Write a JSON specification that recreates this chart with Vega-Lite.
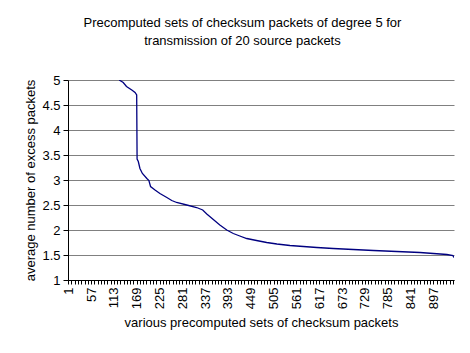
{
  "$schema": "https://vega.github.io/schema/vega-lite/v6.json",
  "width": 386,
  "height": 200,
  "autosize": {"type": "none"},
  "padding": {"left": 68, "top": 80, "right": 16, "bottom": 73},
  "background": "white",
  "title": {
    "text": ["Precomputed sets of checksum packets of degree 5 for", "transmission of 20 source packets"],
    "anchor": "middle",
    "frame": "bounds",
    "font": "Liberation Sans",
    "fontSize": 13,
    "fontWeight": "normal",
    "lineHeight": 18,
    "color": "black",
    "offset": 26
  },
  "config": {
    "view": {"stroke": null},
    "axis": {
      "labelFont": "Liberation Sans",
      "titleFont": "Liberation Sans",
      "labelFontSize": 13,
      "titleFontSize": 13,
      "titleFontWeight": "normal",
      "labelColor": "black",
      "titleColor": "black",
      "domainColor": "black",
      "tickColor": "black"
    }
  },
  "data": {
    "values": [
      {"set": 126, "excess": 5.0},
      {"set": 136, "excess": 4.95},
      {"set": 144, "excess": 4.87},
      {"set": 157, "excess": 4.8},
      {"set": 165, "excess": 4.75},
      {"set": 169, "excess": 4.7},
      {"set": 170, "excess": 3.42},
      {"set": 173, "excess": 3.37},
      {"set": 177, "excess": 3.23},
      {"set": 183, "excess": 3.13},
      {"set": 194, "excess": 3.03},
      {"set": 199, "excess": 2.99},
      {"set": 203, "excess": 2.87},
      {"set": 214, "excess": 2.8},
      {"set": 226, "excess": 2.73},
      {"set": 243, "excess": 2.65},
      {"set": 255, "excess": 2.59},
      {"set": 267, "excess": 2.55},
      {"set": 292, "excess": 2.5},
      {"set": 316, "excess": 2.45},
      {"set": 331, "excess": 2.4},
      {"set": 341, "excess": 2.32},
      {"set": 357, "excess": 2.21},
      {"set": 373, "excess": 2.1},
      {"set": 390, "excess": 2.0},
      {"set": 406, "excess": 1.93},
      {"set": 422, "excess": 1.88},
      {"set": 439, "excess": 1.83},
      {"set": 463, "excess": 1.79},
      {"set": 488, "excess": 1.75},
      {"set": 513, "excess": 1.72},
      {"set": 545, "excess": 1.69},
      {"set": 578, "excess": 1.67},
      {"set": 611, "excess": 1.65},
      {"set": 651, "excess": 1.63},
      {"set": 700, "excess": 1.61},
      {"set": 750, "excess": 1.59},
      {"set": 807, "excess": 1.57},
      {"set": 864, "excess": 1.55},
      {"set": 897, "excess": 1.53},
      {"set": 930, "excess": 1.51},
      {"set": 945, "excess": 1.49},
      {"set": 947, "excess": 1.45}
    ]
  },
  "mark": {"type": "line", "color": "#000080", "strokeWidth": 1.3, "clip": true, "interpolate": "linear"},
  "encoding": {
    "x": {
      "field": "set",
      "type": "quantitative",
      "scale": {"domain": [0.5, 947.5], "nice": false, "zero": false},
      "axis": {
        "title": "various precomputed sets of checksum packets",
        "values": [1,9,17,25,33,41,49,57,65,73,81,89,97,105,113,121,129,137,145,153,161,169,177,185,193,201,209,217,225,233,241,249,257,265,273,281,289,297,305,313,321,329,337,345,353,361,369,377,385,393,401,409,417,425,433,441,449,457,465,473,481,489,497,505,513,521,529,537,545,553,561,569,577,585,593,601,609,617,625,633,641,649,657,665,673,681,689,697,705,713,721,729,737,745,753,761,769,777,785,793,801,809,817,825,833,841,849,857,865,873,881,889,897,905,913,921,929,937,945],
        "labelExpr": "(datum.value - 1) % 56 == 0 ? datum.label : ''",
        "format": "d",
        "labelAngle": 270,
        "labelOverlap": false,
        "labelFlush": false,
        "labelPadding": 3,
        "tickSize": 4,
        "grid": false,
        "titlePadding": 8
      }
    },
    "y": {
      "field": "excess",
      "type": "quantitative",
      "scale": {"domain": [1, 5], "nice": false, "zero": false},
      "axis": {
        "title": "average number of excess packets",
        "values": [1, 1.5, 2, 2.5, 3, 3.5, 4, 4.5, 5],
        "format": "~g",
        "grid": true,
        "gridColor": "#808080",
        "gridWidth": 1,
        "tickSize": 5,
        "labelPadding": 3,
        "titlePadding": 4
      }
    }
  }
}
